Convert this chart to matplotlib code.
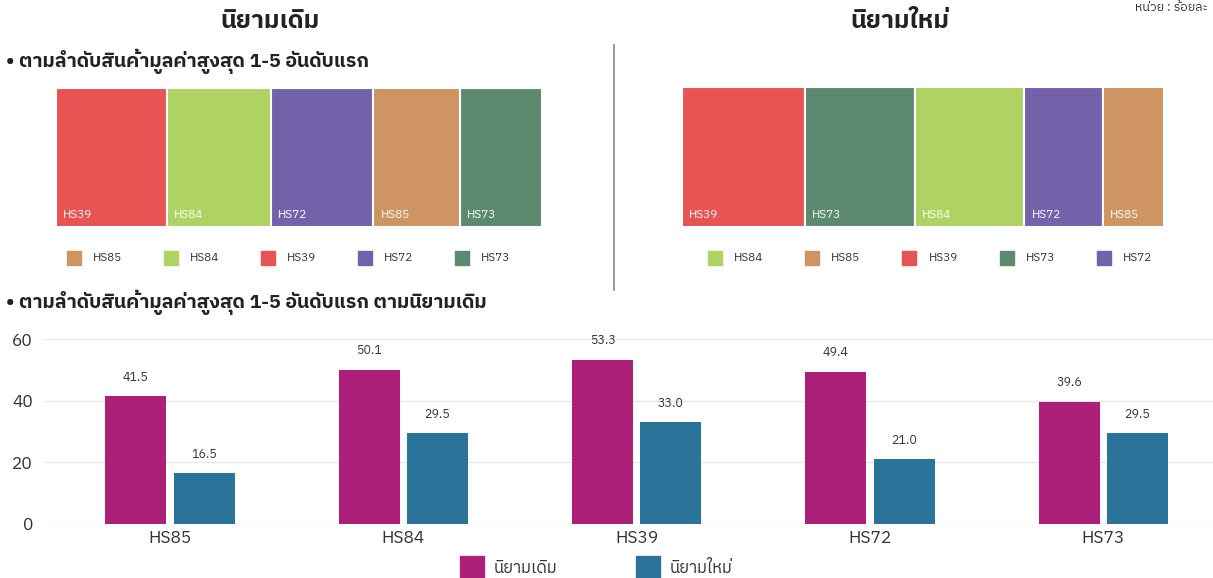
import matplotlib
matplotlib.use("Agg")
import matplotlib.pyplot as plt
from matplotlib.patches import Rectangle
import numpy as np

plt.rcParams['font.family'] = ['IBM Plex Sans Thai', 'DejaVu Sans']

# data
cats = ['HS85', 'HS84', 'HS39', 'HS72', 'HS73']
old_vals = [41.5, 50.1, 53.3, 49.4, 39.6]
new_vals = [16.5, 29.5, 33.0, 21.0, 29.5]

tree_old_order = ['HS39', 'HS84', 'HS72', 'HS85', 'HS73']
tree_new_order = ['HS39', 'HS73', 'HS84', 'HS72', 'HS85']
legend_old = ['HS85', 'HS84', 'HS39', 'HS72', 'HS73']
legend_new = ['HS84', 'HS85', 'HS39', 'HS73', 'HS72']

hs_colors = {'HS39': '#e85453', 'HS84': '#aed363', 'HS72': '#7362a9',
             'HS85': '#ce9563', 'HS73': '#5c8a6e'}
c_old = '#ad2079'
c_new = '#2a7399'

title_old = 'นิยามเดิม'
title_new = 'นิยามใหม่'
unit_txt = 'หน่วย : ร้อยละ'
sub1 = '• ตามลำดับสินค้ามูลค่าสูงสุด 1-5 อันดับแรก'
sub2 = '• ตามลำดับสินค้ามูลค่าสูงสุด 1-5 อันดับแรก ตามนิยามเดิม'

W, H = 1213, 578
fig = plt.figure(figsize=(W / 100, H / 100), dpi=100)


def fx(px):
    return px / W


def fy(py):
    return 1 - py / H


# headers
fig.text(fx(270), fy(21), title_old, ha='center', va='center', fontsize=18, fontweight='bold', color='#222222')
fig.text(fx(900), fy(21), title_new, ha='center', va='center', fontsize=18, fontweight='bold', color='#222222')
fig.text(fx(1208), fy(1), unit_txt, ha='right', va='top', fontsize=9, color='#333333')
fig.text(fx(6), fy(61), sub1, ha='left', va='center', fontsize=14, fontweight='bold', color='#222222')
fig.text(fx(6), fy(302), sub2, ha='left', va='center', fontsize=14, fontweight='bold', color='#222222')
fig.add_artist(plt.Line2D([fx(614), fx(614)], [fy(45), fy(290)], color='#888888', lw=1.2))


def treemap(rect, order, vals_all):
    ax = fig.add_axes(rect)
    vals = [vals_all[cats.index(c)] for c in order]
    lefts = np.concatenate([[0], np.cumsum(vals)[:-1]])
    ax.bar(lefts, 1, width=vals, align='edge',
           color=[hs_colors[c] for c in order], edgecolor='white', linewidth=1.5)
    for l, c in zip(lefts, order):
        ax.annotate(c, (l, 0), xytext=(7, 7), textcoords='offset pixels',
                    color='white', fontsize=8.5, ha='left', va='bottom')
    ax.set_xlim(0, sum(vals))
    ax.set_ylim(0, 1)
    ax.axis('off')
    return ax


treemap([fx(56), fy(227), fx(542) - fx(56), fy(88) - fy(227)], tree_old_order, old_vals)
treemap([fx(682), fy(227), fx(1164) - fx(682), fy(87) - fy(227)], tree_new_order, new_vals)


def small_legend(items, x0, step, y):
    for i, c in enumerate(items):
        x = x0 + i * step
        fig.patches.append(Rectangle((fx(x), fy(y + 7)), fx(14), 14 / H, color=hs_colors[c],
                                     transform=fig.transFigure, figure=fig))
        fig.text(fx(x + 26), fy(y), c, ha='left', va='center', fontsize=8.5, color='#333333')


small_legend(legend_old, 67, 97, 258)
small_legend(legend_new, 708, 97.2, 258)

# grouped bars
ax = fig.add_axes([fx(44), fy(524), 1 - fx(44), fy(339) - fy(524)])
x = np.arange(len(cats))
bw = 0.261
off = 0.146
b1 = ax.bar(x - off, old_vals, bw, color=c_old, zorder=2)
b2 = ax.bar(x + off, new_vals, bw, color=c_new, zorder=2)
for bars, vals in ((b1, old_vals), (b2, new_vals)):
    for b, v in zip(bars, vals):
        ax.annotate('%.1f' % v, (b.get_x() + b.get_width() / 2, v), xytext=(0, 19),
                    textcoords='offset pixels', ha='center', va='center', fontsize=9,
                    color='#333333', annotation_clip=False)
ax.set_ylim(0, 60)
ax.set_yticks([0, 20, 40, 60])
ax.set_xlim(-0.54, 4.47)
ax.set_xticks(x)
ax.set_xticklabels(cats)
ax.grid(axis='y', color='#e6e6e6', lw=1, zorder=0)
for s in ax.spines.values():
    s.set_visible(False)
ax.tick_params(length=0, labelsize=12.5, colors='#333333')
ax.tick_params(axis='y', pad=8)
ax.tick_params(axis='x', pad=4)

# bottom legend
for px, c, lab in ((460, c_old, title_old), (636, c_new, title_new)):
    fig.patches.append(Rectangle((fx(px), fy(578)), fx(24), 22 / H, color=c,
                                 transform=fig.transFigure, figure=fig))
    fig.text(fx(px + 34), fy(568), lab, ha='left', va='center', fontsize=12, color='#333333')

fig.savefig('out.png', dpi=100)
